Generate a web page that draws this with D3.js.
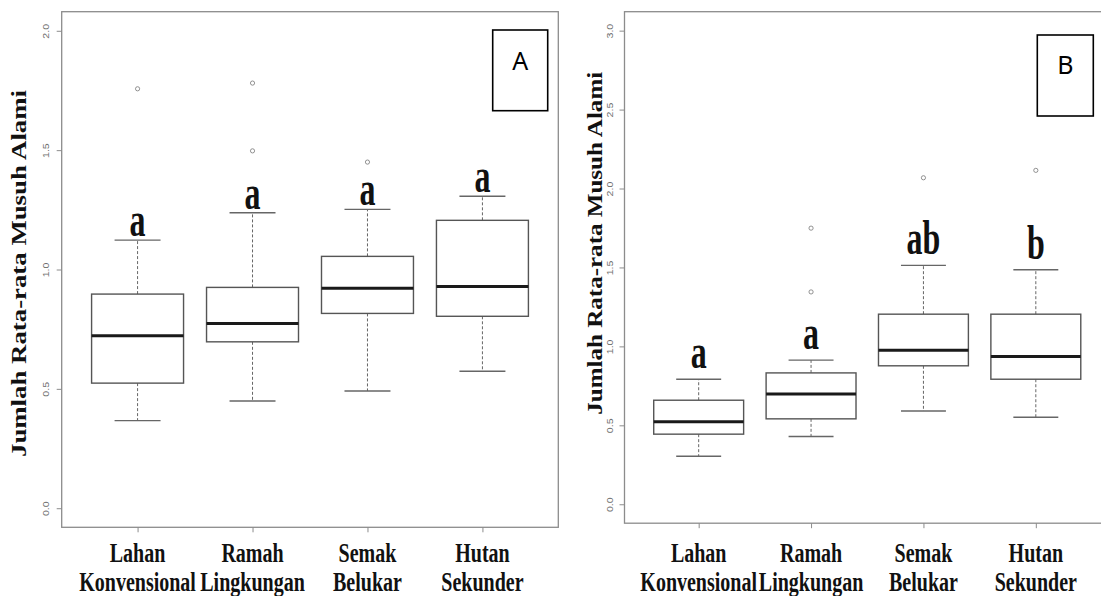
<!DOCTYPE html>
<html>
<head>
<meta charset="utf-8">
<script src="https://cdn.jsdelivr.net/npm/d3@7"></script>
<style>
  body { margin: 0; background: #fff; }
  svg { display: block; }
</style>
</head>
<body>
<svg id="chart" width="1101" height="596"></svg>
<script>
// categories (two-line labels)
var catTop = ["Lahan", "Ramah", "Semak", "Hutan"];
var catBottom = ["Konvensional", "Lingkungan", "Belukar", "Sekunder"];

// panel A - box stats
var aLower  = [0.367, 0.449, 0.491, 0.574];
var aQ1     = [0.524, 0.697, 0.816, 0.804];
var aMedian = [0.722, 0.774, 0.921, 0.929];
var aQ3     = [0.897, 0.925, 1.055, 1.206];
var aUpper  = [1.123, 1.238, 1.252, 1.307];
var aOut    = [[1.757], [1.781, 1.497], [1.450], []];
var aLetters = ["a", "a", "a", "a"];
var aTicks  = [0, 0.5, 1.0, 1.5, 2.0];

// panel B
var bLower  = [0.304, 0.429, 0.591, 0.551];
var bQ1     = [0.444, 0.541, 0.877, 0.792];
var bMedian = [0.522, 0.699, 0.976, 0.936];
var bQ3     = [0.659, 0.832, 1.204, 1.204];
var bUpper  = [0.792, 0.913, 1.513, 1.485];
var bOut    = [[], [1.749, 1.345], [2.068], [2.115]];
var bLetters = ["a", "a", "ab", "b"];
var bTicks  = [0, 0.5, 1.0, 1.5, 2.0, 2.5, 3.0];

var yTitle = "Jumlah Rata-rata Musuh Alami";

var svg = d3.select("#chart");

function drawPanel(p) {
    var g = svg.append("g");

    var x = d3.scaleLinear().domain([0.34, 4.66]).range([p.left, p.right]);
    var pad = p.ymax * 0.04;
    var y = d3.scaleLinear().domain([-pad, p.ymax + pad]).range([p.bottom, p.top]);

    // frame
    g.append("rect")
        .attr("x", p.left).attr("y", p.top)
        .attr("width", p.right - p.left).attr("height", p.bottom - p.top)
        .attr("fill", "none").attr("stroke", "#8c8c8c").attr("stroke-width", 1.3);

    // y axis
    var ya = g.append("g")
        .attr("transform", "translate(" + p.left + ",0)")
        .call(d3.axisLeft(y).tickValues(p.ticks).tickFormat(d3.format(".1f")).tickSize(5));
    ya.select(".domain").remove();
    ya.selectAll("line").attr("stroke", "#8c8c8c").attr("stroke-width", 1);
    ya.selectAll("text")
        .attr("x", null).attr("dy", null)
        .attr("transform", "translate(" + p.tickLabX + ",0) rotate(-90) scale(1.25,1)")
        .attr("text-anchor", "middle")
        .attr("font-family", "Liberation Sans, Arial, sans-serif")
        .attr("font-size", 8.5)
        .attr("fill", "#6e6e6e");

    // x axis ticks
    var xa = g.append("g")
        .attr("transform", "translate(0," + p.bottom + ")")
        .call(d3.axisBottom(x).tickValues([1, 2, 3, 4]).tickFormat("").tickSize(5));
    xa.select(".domain").remove();
    xa.selectAll("line").attr("stroke", "#8c8c8c").attr("stroke-width", 1);

    // x labels
    [[catTop, 562], [catBottom, 590.5]].forEach(function (row) {
        g.selectAll(null)
            .data(row[0])
            .enter()
            .append("text")
            .attr("transform", function (d, i) {
                return "translate(" + x(i + 1) + "," + row[1] + ") scale(1,1.4)";
            })
            .attr("text-anchor", "middle")
            .attr("font-family", "Liberation Serif, Times New Roman, serif")
            .attr("font-weight", "bold")
            .attr("font-size", 20)
            .attr("fill", "#111")
            .text(function (d) { return d; });
    });

    // y title
    g.append("text")
        .attr("transform", "translate(" + p.titleX + "," + p.titleY + ") rotate(-90)")
        .attr("text-anchor", "middle")
        .attr("font-family", "Liberation Serif, Times New Roman, serif")
        .attr("font-weight", "bold")
        .attr("font-size", 20)
        .attr("textLength", p.titleLen)
        .attr("lengthAdjust", "spacingAndGlyphs")
        .attr("fill", "#111")
        .text(yTitle);

    var idx = [0, 1, 2, 3];
    var bw = 0.4, cw = 0.2;

    // whiskers (dashed)
    g.selectAll(null).data(idx).enter().append("line")
        .attr("x1", function (i) { return x(i + 1); })
        .attr("x2", function (i) { return x(i + 1); })
        .attr("y1", function (i) { return y(p.q3[i]); })
        .attr("y2", function (i) { return y(p.upper[i]); })
        .attr("stroke", "#555").attr("stroke-width", 0.9).attr("stroke-dasharray", "3,2");
    g.selectAll(null).data(idx).enter().append("line")
        .attr("x1", function (i) { return x(i + 1); })
        .attr("x2", function (i) { return x(i + 1); })
        .attr("y1", function (i) { return y(p.q1[i]); })
        .attr("y2", function (i) { return y(p.lower[i]); })
        .attr("stroke", "#555").attr("stroke-width", 0.9).attr("stroke-dasharray", "3,2");

    // caps
    ["upper", "lower"].forEach(function (k) {
        g.selectAll(null).data(idx).enter().append("line")
            .attr("x1", function (i) { return x(i + 1 - cw); })
            .attr("x2", function (i) { return x(i + 1 + cw); })
            .attr("y1", function (i) { return y(p[k][i]); })
            .attr("y2", function (i) { return y(p[k][i]); })
            .attr("stroke", "#666").attr("stroke-width", 1.4);
    });

    // boxes
    g.selectAll(null).data(idx).enter().append("rect")
        .attr("x", function (i) { return x(i + 1 - bw); })
        .attr("width", function (i) { return x(i + 1 + bw) - x(i + 1 - bw); })
        .attr("y", function (i) { return y(p.q3[i]); })
        .attr("height", function (i) { return y(p.q1[i]) - y(p.q3[i]); })
        .attr("fill", "#fff").attr("stroke", "#555").attr("stroke-width", 1.4);

    // medians
    g.selectAll(null).data(idx).enter().append("line")
        .attr("x1", function (i) { return x(i + 1 - bw); })
        .attr("x2", function (i) { return x(i + 1 + bw); })
        .attr("y1", function (i) { return y(p.median[i]); })
        .attr("y2", function (i) { return y(p.median[i]); })
        .attr("stroke", "#1a1a1a").attr("stroke-width", 3);

    // outliers
    var outs = [];
    p.out.forEach(function (arr, i) {
        arr.forEach(function (v) { outs.push({ i: i, v: v }); });
    });
    g.selectAll(null).data(outs).enter().append("circle")
        .attr("cx", function (d) { return x(d.i + 1); })
        .attr("cy", function (d) { return y(d.v); })
        .attr("r", 2.1)
        .attr("fill", "none").attr("stroke", "#777").attr("stroke-width", 0.8);

    // significance letters
    g.selectAll(null).data(idx).enter().append("text")
        .attr("transform", function (i) {
            return "translate(" + x(i + 1) + "," + (y(p.upper[i]) - p.letterGap) + ") scale(1,1.5)";
        })
        .attr("text-anchor", "middle")
        .attr("font-family", "Liberation Serif, Times New Roman, serif")
        .attr("font-weight", "bold")
        .attr("font-size", 32)
        .attr("fill", "#111")
        .text(function (i) { return p.letters[i]; });

    // panel tag box
    g.append("rect")
        .attr("x", p.tag[0]).attr("y", p.tag[1])
        .attr("width", p.tag[2]).attr("height", p.tag[3])
        .attr("fill", "#fff").attr("stroke", "#000").attr("stroke-width", 1.6);
    g.append("text")
        .attr("x", p.tag[0] + p.tag[2] / 2)
        .attr("y", p.tag[1] + p.tagBase)
        .attr("text-anchor", "middle")
        .attr("font-family", "Noto Sans, Open Sans, sans-serif")
        .attr("font-size", 25)
        .attr("fill", "#000")
        .text(p.name);
}

drawPanel({
    name: "A", left: 61.7, right: 558.3, top: 11.7, bottom: 527.3, ymax: 2,
    ticks: aTicks, tickLabX: -13, titleX: 26, titleY: 273.5, titleLen: 367,
    lower: aLower, q1: aQ1, median: aMedian, q3: aQ3, upper: aUpper, out: aOut,
    letters: aLetters, letterGap: 4,
    tag: [492.7, 30, 55, 80.7], tagBase: 39.5
});

drawPanel({
    name: "B", left: 624.5, right: 1110, top: 11.7, bottom: 523.2, ymax: 3,
    ticks: bTicks, tickLabX: -12, titleX: 602, titleY: 243.3, titleLen: 343,
    lower: bLower, q1: bQ1, median: bMedian, q3: bQ3, upper: bUpper, out: bOut,
    letters: bLetters, letterGap: 11,
    tag: [1037.3, 35, 56, 81], tagBase: 39
});
</script>
</body>
</html>
